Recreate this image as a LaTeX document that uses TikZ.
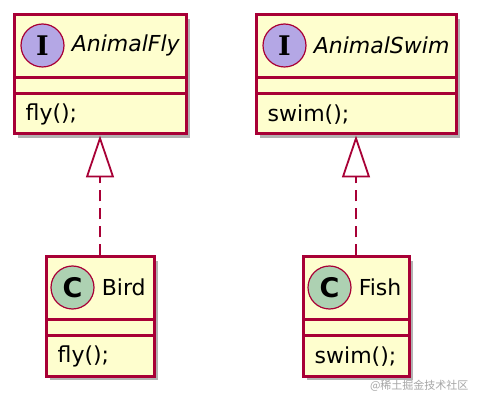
\documentclass[tikz,border=0pt]{standalone}
\usepackage{fontspec}
\setmainfont{DejaVu Sans}
\newfontfamily\spotserif{DejaVu Serif}
\newfontfamily\cjk{Noto Sans CJK SC}
\usepackage{tikz}
\usetikzlibrary{arrows.meta,positioning,calc,shadows}
\definecolor{umlred}{HTML}{A80036}
\definecolor{umlfill}{HTML}{FEFECE}
\definecolor{ifacefill}{HTML}{B4A7E5}
\definecolor{classfill}{HTML}{ADD1B2}
\tikzset{
  umlbox/.style={draw=umlred, fill=umlfill, line width=3pt, minimum height=119pt,
    drop shadow={shadow xshift=4pt, shadow yshift=-4pt, fill=black, opacity=0.3}},
  spot/.style={circle, draw=umlred, line width=1.2pt, minimum size=43pt, inner sep=0pt,
    font=\fontsize{27}{27}\selectfont\bfseries},
  umltext/.style={inner sep=2pt, font=\fontsize{22}{26}\selectfont},
  realize/.style={draw=umlred, line width=1.8pt, dash pattern=on 11pt off 7pt,
    -{Triangle[open, length=42pt, width=28pt, line width=1.8pt]}}
}

\begin{document}
\begin{tikzpicture}[x=1pt, y=-1pt]
  % interfaces on top, classes below
  \useasboundingbox[fill=white] (0,0) rectangle (482,403);
  \node[umlbox, minimum width=172pt] (fly) at (100,74.5) {};
  \node[umlbox, minimum width=200pt] (swim) at (356,74.5) {};
  \node[umlbox, minimum width=108pt] (bird) at (100,316.5) {};
  \node[umlbox, minimum width=106pt] (fish) at (356,316.5) {};
  \foreach \c in {fly,swim,bird,fish} {
    \draw[umlred, line width=3pt] ($(\c.north west)+(1.5,64)$) -- ($(\c.north east)+(-1.5,64)$);
    \draw[umlred, line width=3pt] ($(\c.north west)+(1.5,80)$) -- ($(\c.north east)+(-1.5,80)$);
  }
  \node[spot, fill=ifacefill] (flyspot) at ($(fly.north west)+(30,32)$) {\spotserif\bfseries I};
  \node[umltext, anchor=west, font=\fontsize{22}{26}\selectfont\itshape] (flyname) at ($(flyspot.east)+(5,0)$) {AnimalFly};
  \node[umltext, anchor=west] (flyop) at ($(fly.north west)+(11,101)$) {fly();};
  \node[spot, fill=ifacefill] (swimspot) at ($(swim.north west)+(30,32)$) {\spotserif\bfseries I};
  \node[umltext, anchor=west, font=\fontsize{22}{26}\selectfont\itshape] (swimname) at ($(swimspot.east)+(5,0)$) {AnimalSwim};
  \node[umltext, anchor=west] (swimop) at ($(swim.north west)+(11,101)$) {swim();};
  \node[spot, fill=classfill] (birdspot) at ($(bird.north west)+(28,32)$) {C};
  \node[umltext, anchor=west] (birdname) at ($(birdspot.east)+(5,0)$) {Bird};
  \node[umltext, anchor=west] (birdop) at ($(bird.north west)+(11,101)$) {fly();};
  \node[spot, fill=classfill] (fishspot) at ($(fish.north west)+(28,32)$) {C};
  \node[umltext, anchor=west] (fishname) at ($(fishspot.east)+(5,0)$) {Fish};
  \node[umltext, anchor=west] (fishop) at ($(fish.north west)+(11,101)$) {swim();};
  \draw[realize] (bird.north) -- (fly.south);
  \draw[realize] (fish.north) -- (swim.south);
  \node[text=black!35, font=\cjk\fontsize{11}{12}\selectfont, anchor=east] (mark) at (472,386) {@稀土掘金技术社区};
\end{tikzpicture}
\end{document}
